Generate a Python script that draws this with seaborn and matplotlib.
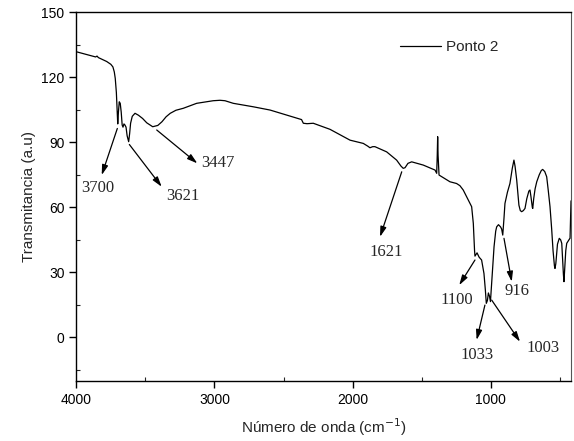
import matplotlib
matplotlib.use("Agg")
import matplotlib.pyplot as plt
import seaborn as sns
import pandas as pd
from matplotlib.ticker import MultipleLocator

# ---- data ----
wavenumber = [4000, 3930, 3860, 3850, 3840, 3780, 3750, 3735, 3725, 3718, 3710, 3704,
              3700, 3695, 3689, 3682, 3675, 3668, 3662, 3655, 3648, 3640, 3632, 3621,
              3614, 3607, 3595, 3575, 3550, 3520, 3490, 3447, 3410, 3380, 3350, 3320,
              3279, 3226, 3129, 3009, 2960, 2924, 2864, 2719, 2598, 2478, 2394, 2370,
              2357, 2330, 2285, 2164, 2019, 1923, 1890, 1875, 1855, 1839, 1754, 1682,
              1650, 1634, 1621, 1600, 1573, 1489, 1404, 1392, 1388, 1385, 1382, 1375,
              1340, 1296, 1248, 1224, 1200, 1164, 1139, 1127, 1118, 1115, 1100, 1085,
              1067, 1050, 1040, 1033, 1025, 1018, 1010, 1003, 995, 985, 977, 965,
              958, 945, 930, 922, 914, 905, 898, 880, 862, 845, 833, 825,
              813, 797, 787, 777, 765, 753, 740, 725, 717, 710, 700, 697,
              690, 680, 668, 650, 635, 625, 610, 596, 585, 572, 560, 550,
              540, 536, 530, 518, 505, 495, 487, 480, 475, 471, 465, 458,
              451, 440, 430, 427, 420]
transmittance = [131.8, 130.6, 129.4, 129.8, 129.1, 127.3, 126.0, 124.8, 122.5, 119.5, 113.0, 104.0,
                 98.5, 104.0, 108.7, 108.0, 104.0, 98.0, 97.0, 98.5, 98.0, 97.0, 93.0, 90.3,
                 94.0, 98.8, 102.0, 103.4, 102.5, 101.0, 99.0, 97.2, 97.8, 99.5, 101.8, 103.4,
                 104.8, 105.7, 108.0, 109.2, 109.4, 109.2, 108.0, 106.4, 104.9, 102.6, 101.0, 100.5,
                 98.8, 98.6, 98.8, 96.0, 91.0, 89.5, 88.2, 87.5, 88.0, 88.0, 85.6, 81.8,
                 79.0, 78.0, 78.3, 80.3, 81.0, 79.5, 77.2, 75.7, 84.0, 92.6, 84.0, 74.9,
                 73.5, 71.8, 71.0, 70.0, 68.0, 63.4, 60.3, 52.6, 40.0, 37.5, 39.0, 37.0,
                 35.7, 29.5, 22.0, 15.7, 17.0, 20.5, 19.0, 16.5, 24.0, 34.0, 41.8, 49.0,
                 51.0, 52.0, 51.0, 50.0, 47.2, 55.0, 61.8, 67.0, 71.0, 78.0, 81.8, 79.0,
                 72.6, 61.0, 58.5, 58.0, 58.5, 59.5, 64.0, 67.5, 68.0, 65.0, 60.0, 59.5,
                 64.0, 68.5, 71.8, 75.0, 77.0, 77.5, 76.5, 74.1, 68.0, 60.3, 50.0, 40.0,
                 33.0, 31.8, 34.0, 43.0, 45.7, 45.0, 43.4, 35.0, 29.0, 25.7, 32.0, 40.0,
                 43.4, 44.5, 45.5, 45.7, 63.0]

peak_labels = ["3700", "3621", "3447", "1621", "1100", "916", "1033", "1003"]
arrow_tail_x = [3703, 3616, 3418, 1645, 1115, 905, 1043, 994]
arrow_tail_y = [96.4, 89.0, 95.7, 76.4, 35.7, 45.7, 14.9, 17.2]
arrow_head_x = [3816, 3382, 3124, 1802, 1229, 849, 1103, 789]
arrow_head_y = [74.9, 69.5, 80.3, 46.4, 24.1, 25.7, -1.2, -2.0]
label_x = [3845, 3226, 2972, 1760, 1247, 813, 1103, 621]
label_y = [68.9, 65.2, 80.4, 39.5, 17.2, 21.4, -8.2, -5.0]

series_name = "Ponto 2"
x_ticks = [4000, 3000, 2000, 1000]
y_ticks = [0, 30, 60, 90, 120, 150]

df = pd.DataFrame({"w": wavenumber, "t": transmittance, "s": series_name})

sns.set_style("ticks")
plt.rcParams["font.family"] = ["Liberation Sans", "DejaVu Sans"]

fig = plt.figure(figsize=(5.74, 4.41), dpi=100)
ax = fig.add_axes([0.1329, 0.1367, 0.9948 - 0.1329, 0.9721 - 0.1367])

sns.lineplot(data=df, x="w", y="t", hue="s", palette=["black"], estimator=None,
             sort=False, linewidth=0.9, ax=ax)

ax.set_xlim(4000, 420)
ax.set_ylim(-20, 150)
ax.set_xticks(x_ticks)
ax.set_xticklabels([str(v) for v in x_ticks])
ax.set_yticks(y_ticks)
ax.set_yticklabels([str(v) for v in y_ticks])
ax.xaxis.set_minor_locator(MultipleLocator(500))
ax.yaxis.set_minor_locator(MultipleLocator(15))
ax.tick_params(which="major", direction="out", length=5, width=1, labelsize=10, colors="black")
ax.tick_params(which="minor", direction="in", length=3, width=0.8)
for side in ["left", "bottom", "top"]:
    ax.spines[side].set_visible(True)
    ax.spines[side].set_linewidth(1.0)
    ax.spines[side].set_color("black")
ax.spines["right"].set_visible(True)
ax.spines["right"].set_linewidth(0.8)
ax.spines["right"].set_color("#555555")

ax.set_xlabel("Número de onda (cm$^{-1}$)", fontsize=11, labelpad=7)
ax.set_ylabel("Transmitancia (a.u)", fontsize=11, labelpad=4)

for lab, tx, ty, hx, hy, lx, ly in zip(peak_labels, arrow_tail_x, arrow_tail_y,
                                        arrow_head_x, arrow_head_y, label_x, label_y):
    ax.annotate("", xy=(hx, hy), xytext=(tx, ty),
                arrowprops=dict(arrowstyle="-|>,head_length=0.6,head_width=0.18",
                                color="black", lw=0.9, shrinkA=0, shrinkB=0))
    ax.text(lx, ly, lab, ha="center", va="center", fontsize=12,
            family=["Liberation Serif", "DejaVu Serif"])

leg = ax.legend(loc="center left", bbox_to_anchor=(0.654, 0.906), frameon=False,
                fontsize=11, handlelength=2.7, handletextpad=0.35,
                borderpad=0, borderaxespad=0)

fig.savefig("out.png", dpi=100)
